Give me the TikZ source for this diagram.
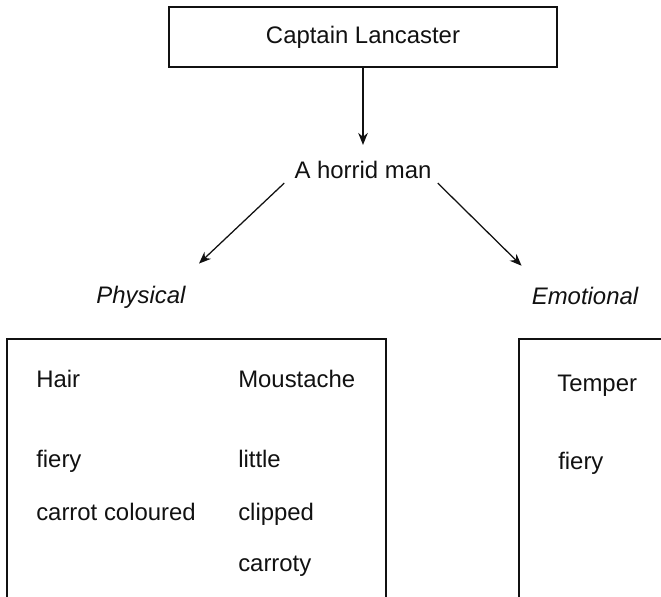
\documentclass[tikz,border=0pt]{standalone}
\usepackage{fontspec}
\setmainfont{Liberation Sans}
\usepackage{xcolor}
\usepackage{tikz}
\usetikzlibrary{arrows.meta,positioning}
\definecolor{ink}{HTML}{111111}
\tikzset{
  namebox/.style={draw=ink,line width=1.2pt,minimum width=9.7cm,
                  minimum height=1.5cm,inner sep=0pt},
  heading/.style={font=\fontsize{17}{20}\selectfont\itshape,inner sep=0pt},
  item/.style={anchor=base west,inner sep=0pt},
  frameline/.style={draw=ink,line width=1.2pt},
  arrowmain/.style={-{Stealth[length=3mm,width=2.4mm]},line width=0.9pt,ink},
}

\begin{document}
\begin{tikzpicture}[x=0.025cm,y=0.025cm,font=\fontsize{17}{20}\selectfont,
                    text=ink]
  \clip (0,0) rectangle (661,596);

  % Top of the tree
  \node[namebox] (captain) at (363,559) {Captain Lancaster};
  \node[inner sep=0pt] (horrid) at (363,426) {A horrid man};
  \draw[arrowmain] (captain.south) -- ([yshift=0.4cm]horrid.north);

  % Two headings
  \node[heading] (physical) at (141,299) {Physical};
  \node[heading] (emotional) at (585,300) {Emotional};
  \draw[arrowmain] ([xshift=-0.25cm,yshift=-0.1cm]horrid.south west)
    -- ([xshift=0.33cm,yshift=0.55cm]physical.north east);
  \draw[arrowmain] ([xshift=0.15cm,yshift=-0.1cm]horrid.south east)
    -- ([xshift=-0.25cm,yshift=0.53cm]emotional.north west);

  % Open frames (bottom and right run off the page)
  \draw[frameline] (7,-10) -- (7,257) -- (386,257) -- (386,-10);
  \draw[frameline] (519,-10) -- (519,257) -- (700,257);

  % Physical: hair and moustache (baselines)
  \node[item] (hair) at (36,208.5) {Hair};
  \node[item] (hairfiery) at (36,128) {fiery};
  \node[item] (carrotcol) at (36,75.5) {carrot coloured};
  \node[item] (moustache) at (238,208.5) {Moustache};
  \node[item] (little) at (238,128) {little};
  \node[item] (clipped) at (238,75.5) {clipped};
  \node[item] (carroty) at (238,24.5) {carroty};

  % Emotional: temper
  \node[item] (temper) at (557,204.5) {Temper};
  \node[item] (temperfiery) at (558,126) {fiery};
\end{tikzpicture}
\end{document}
